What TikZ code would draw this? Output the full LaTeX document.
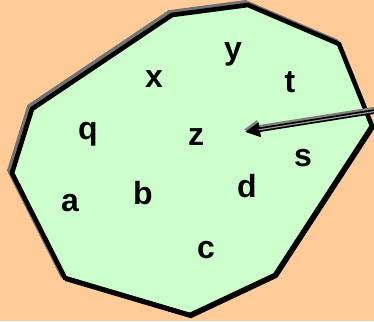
\documentclass[tikz,border=0pt]{standalone}
\usepackage{fontspec}
\setmainfont{Liberation Sans}
\usetikzlibrary{arrows.meta}
\definecolor{bgpeach}{HTML}{FFCC99}
\definecolor{fillgreen}{HTML}{CCFFCC}
\begin{document}
\begin{tikzpicture}[x=1pt,y=-1pt,
  lbl/.style={font=\fontsize{32}{32}\selectfont\bfseries, inner sep=0pt, anchor=center},
  outline/.style={line width=4.6pt, line join=miter, draw=black},
  shadowline/.style={line width=4.6pt, draw=black!55, line join=miter, transform canvas={shift={(-2.6,-2.6)}}}]
\fill[bgpeach] (0,0) rectangle (374,321);
\useasboundingbox (0,0) rectangle (374,321);
% polygon vertices
\coordinate (p1) at (32,109);
\coordinate (p2) at (172,15);
\coordinate (p3) at (248,5);
\coordinate (p4) at (339,44);
\coordinate (p5) at (372,126);
\coordinate (p6) at (275,275);
\coordinate (p7) at (190,315);
\coordinate (p8) at (65,278);
\coordinate (p9) at (12,173);
\draw[shadowline] (p1) -- (p2) -- (p3) -- (p4) -- (p5) -- (p6) -- (p7) -- (p8) -- (p9) -- cycle;
\fill[fillgreen] (p1) -- (p2) -- (p3) -- (p4) -- (p5) -- (p6) -- (p7) -- (p8) -- (p9) -- cycle;
\draw[outline, transform canvas={shift={(0.8,0.8)}}] (p5) -- (p6) -- (p7) -- (p8);
\draw[outline] (p1) -- (p2) -- (p3) -- (p4) -- (p5) -- (p6) -- (p7) -- (p8) -- (p9) -- cycle;
% labels
\node[lbl] (x) at (154,79) {x};
\node[lbl] (y) at (233,54) {y};
\node[lbl] (t) at (290,82) {t};
\node[lbl] (q) at (88,134) {q};
\node[lbl] (z) at (196,137) {z};
\node[lbl] (s) at (303,158) {s};
\node[lbl] (d) at (247,186) {d};
\node[lbl] (a) at (70,203) {a};
\node[lbl] (b) at (143,193) {b};
\node[lbl] (c) at (206,250) {c};
% arrow
\coordinate (as) at (378,111);
\coordinate (at) at (245,132);
\draw[black!50, line width=4.6pt, transform canvas={shift={(-1.5,-2.2)}}, -{Triangle[length=15pt,width=14pt]}] (as) -- (at);
\draw[black, line width=4.6pt, -{Triangle[length=15pt,width=14pt]}] (as) -- (at);
\draw[black!40, line width=1.2pt, shorten >=14pt] (as) -- (at);
\end{tikzpicture}
\end{document}
